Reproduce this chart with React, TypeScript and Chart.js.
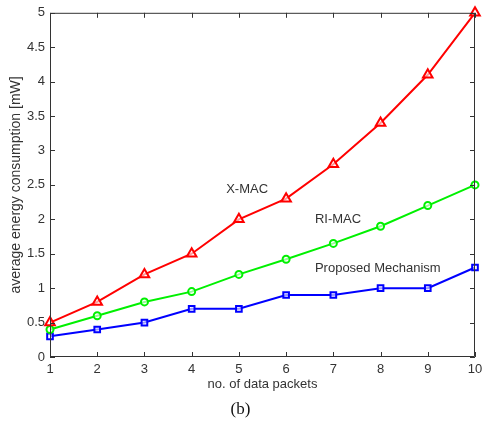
import React, { useEffect, useRef } from "react";
import { Chart, registerables } from "chart.js";

Chart.register(...registerables);

const packets = [1, 2, 3, 4, 5, 6, 7, 8, 9, 10];
const xmac = [0.5, 0.8, 1.2, 1.5, 2.0, 2.3, 2.8, 3.4, 4.1, 5.0];
const rimac = [0.4, 0.6, 0.8, 0.95, 1.2, 1.42, 1.65, 1.9, 2.2, 2.5];
const proposed = [0.3, 0.4, 0.5, 0.7, 0.7, 0.9, 0.9, 1.0, 1.0, 1.3];
const yTicks = [0, 0.5, 1, 1.5, 2, 2.5, 3, 3.5, 4, 4.5, 5];
const labels = [
  { text: "X-MAC", x: 4.73, y: 2.43 },
  { text: "RI-MAC", x: 6.61, y: 2.0 },
  { text: "Proposed Mechanism", x: 6.61, y: 1.28 },
];
const caption = "(b)";

const FONT = "'Liberation Sans', Arial, sans-serif";
const AXIS = "#333333";

const matlabPlugin = {
  id: "matlabBox",
  afterDraw(chart: any) {
    const { ctx, chartArea, scales } = chart;
    const { left, right, top, bottom } = chartArea;
    const x = scales.x;
    const y = scales.y;
    ctx.save();
    ctx.strokeStyle = AXIS;
    ctx.lineWidth = 1;
    ctx.beginPath();
    ctx.rect(left + 0.5, top + 0.5, right - left - 1, bottom - top - 1);
    ctx.stroke();
    const tl = 5;
    ctx.beginPath();
    packets.forEach((v) => {
      const px = Math.round(x.getPixelForValue(v)) + 0.5;
      ctx.moveTo(px, bottom);
      ctx.lineTo(px, bottom - tl);
      ctx.moveTo(px, top);
      ctx.lineTo(px, top + tl);
    });
    yTicks.forEach((v) => {
      const py = Math.round(y.getPixelForValue(v)) + 0.5;
      ctx.moveTo(left, py);
      ctx.lineTo(left + tl, py);
      ctx.moveTo(right, py);
      ctx.lineTo(right - tl, py);
    });
    ctx.stroke();

    ctx.fillStyle = "#333";
    ctx.font = "13px " + FONT;
    ctx.textBaseline = "middle";
    ctx.textAlign = "left";
    labels.forEach((l) => {
      ctx.fillText(l.text, x.getPixelForValue(l.x), y.getPixelForValue(l.y));
    });

    ctx.fillStyle = "#111";
    ctx.font = "17px 'Liberation Serif', 'Times New Roman', serif";
    ctx.textAlign = "center";
    ctx.fillText(caption, (left + right) / 2 - 22, bottom + 53);
    ctx.restore();
  },
};

export default function App() {
  const ref = useRef<HTMLCanvasElement>(null);
  useEffect(() => {
    if (!ref.current) return;
    const mk = (
      label: string,
      data: number[],
      color: string,
      style: string,
      r: number
    ) => ({
      label,
      data,
      borderColor: color,
      backgroundColor: "rgba(255,255,255,0.6)",
      borderWidth: 2,
      pointStyle: style,
      pointRadius: r,
      pointBorderWidth: 2,
      pointBorderColor: color,
      pointBackgroundColor: "rgba(255,255,255,0.6)",
      tension: 0,
      clip: false,
    });
    const chart = new Chart(ref.current, {
      type: "line",
      data: {
        labels: packets,
        datasets: [
          mk("X-MAC", xmac, "#ff0000", "triangle", 5.5),
          mk("RI-MAC", rimac, "#00f000", "circle", 3.5),
          mk("Proposed Mechanism", proposed, "#0000ff", "rect", 4),
        ],
      },
      options: {
        animation: false,
        responsive: false,
        devicePixelRatio: 1,
        layout: { padding: { top: 12, right: 0, left: 0, bottom: 0 } },
        plugins: { legend: { display: false }, tooltip: { enabled: false } },
        scales: {
          x: {
            type: "linear",
            min: 1,
            max: 10,
            afterFit: (s: any) => {
              s.height = 67;
              s.paddingRight = 9;
              s.paddingLeft = 0;
            },
            afterBuildTicks: (s: any) => {
              s.ticks = packets.map((v) => ({ value: v }));
            },
            grid: { display: false, drawTicks: false },
            border: { display: false },
            ticks: {
              padding: 5,
              color: "#333",
              font: { family: FONT, size: 13 },
              maxRotation: 0,
              autoSkip: false,
              callback: (v: any) => String(v),
            },
            title: {
              display: true,
              text: "no. of data packets",
              color: "#333",
              font: { family: FONT, size: 13 },
              padding: { top: 2, bottom: 32 },
            },
          },
          y: {
            min: 0,
            max: 5,
            afterFit: (s: any) => {
              s.width = 50;
            },
            afterBuildTicks: (s: any) => {
              s.ticks = yTicks.map((v) => ({ value: v }));
            },
            grid: { display: false, drawTicks: false },
            border: { display: false },
            ticks: {
              padding: 5,
              color: "#333",
              font: { family: FONT, size: 13 },
              autoSkip: false,
              callback: (v: any) => String(v),
            },
            title: {
              display: true,
              text: "average energy consumption [mW]",
              color: "#333",
              font: { family: FONT, size: 14 },
              padding: { top: 8, bottom: 0 },
            },
          },
        },
      },
      plugins: [matlabPlugin],
    });
    return () => chart.destroy();
  }, []);
  return (
    <div style={{ position: "fixed", left: 0, top: 0, width: 484, height: 424, background: "#fff" }}>
      <canvas ref={ref} width={484} height={424} style={{ width: 484, height: 424 }} />
    </div>
  );
}
